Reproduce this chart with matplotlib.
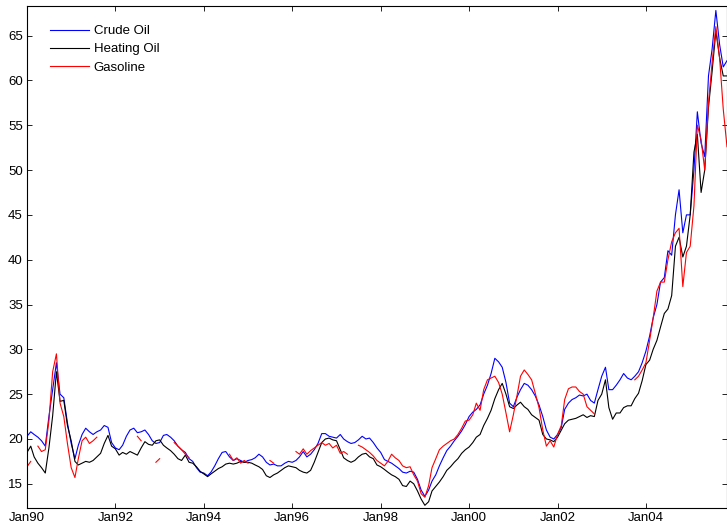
import numpy as np
import pandas as pd
import matplotlib
matplotlib.use('Agg')
import matplotlib.pyplot as plt
import matplotlib.dates as mdates

nan = np.nan

# monthly samples, Jan 1990 .. Nov 2005
months = pd.date_range('1990-01-01', '2005-11-01', freq='MS')

crude_oil = [
    20.3, 20.8, 20.5, 20.2, 19.8, 19.2, 22.5, 25.5, 28.5, 25.0, 24.6, 21.8,
    19.5, 17.8, 19.3, 20.5, 21.2, 20.8, 20.5, 20.8, 21.0, 21.5, 21.3, 19.6,
    19.0, 18.8, 19.3, 20.3, 21.0, 21.2, 20.7, 20.8, 21.0, 20.5, 19.8, 19.5,
    19.6, 20.4, 20.5, 20.2, 19.8, 19.2, 18.8, 18.5, 17.8, 17.5, 16.8, 16.3,
    16.2, 15.9, 16.3, 17.0, 17.8, 18.5, 18.6, 18.0, 17.6, 17.8, 17.6, 17.4,
    17.6, 17.7, 17.9, 18.3, 18.0, 17.4, 17.1, 17.2, 17.0, 17.0, 17.3, 17.5,
    17.4, 17.6, 18.0, 18.6, 18.0, 18.3, 18.8, 19.5, 20.6, 20.6, 20.3, 20.2,
    20.1, 20.5, 20.0, 19.7, 19.5, 19.6, 19.9, 20.3, 20.0, 20.1, 19.6, 19.0,
    18.5, 17.7, 17.5, 17.3, 17.0, 16.7, 16.3, 16.2, 16.4, 16.3, 15.5, 14.3,
    13.6, 14.3, 15.3, 16.0, 17.0, 17.9, 18.7, 19.2, 19.8, 20.3, 20.9, 21.6,
    22.5, 23.0, 23.3, 23.8, 25.0, 26.0, 27.3, 29.0, 28.6, 28.0, 26.3, 24.0,
    23.6, 24.7, 25.5, 26.2, 26.0, 25.5, 24.8, 23.8, 22.5, 21.0, 20.2, 20.0,
    20.5, 21.3, 23.3, 24.0, 24.4, 24.6, 24.9, 24.8, 25.0, 24.3, 24.0, 25.5,
    27.0, 28.0, 25.5, 25.5, 26.0, 26.6, 27.3, 26.8, 26.6, 27.0, 27.5, 28.5,
    29.8, 31.5, 33.5, 35.0, 37.5, 38.0, 41.0, 40.5, 45.0, 47.8, 43.0, 45.0,
    45.0, 50.0, 56.5, 53.0, 51.5, 60.5, 63.5, 67.8, 64.0, 61.5, 62.2,
]

heating_oil = [
    18.5, 19.2, 18.0, 17.3, 16.8, 16.2, 19.0, 22.6, 27.5, 24.2, 24.3, 21.5,
    19.8, 17.5, 17.1, 17.3, 17.5, 17.4, 17.6, 18.0, 18.4, 19.5, 20.4, 19.2,
    18.9, 18.2, 18.5, 18.3, 18.6, 18.4, 18.2, 19.0, 19.7, 19.4, 19.3, 19.8,
    19.9, 19.3, 19.0, 18.7, 18.3, 17.8, 17.6, 18.2, 17.4, 17.3, 16.9, 16.4,
    16.1, 15.8, 16.1, 16.4, 16.7, 16.9, 17.2, 17.3, 17.2, 17.3, 17.5, 17.4,
    17.4, 17.3, 17.1, 16.9, 16.6, 15.9, 15.7, 16.0, 16.2, 16.5, 16.8, 17.0,
    16.9, 16.8, 16.5, 16.3, 16.2, 16.5, 17.4, 18.5, 19.6, 20.0, 20.1, 19.9,
    19.8, 18.8, 17.9, 17.6, 17.4, 17.6, 18.0, 18.3, 18.4, 18.0, 17.8, 17.1,
    16.9, 16.6, 16.3, 16.0, 15.8, 15.5, 14.8, 14.7, 15.3, 15.0, 14.2, 13.3,
    12.6, 13.0, 14.2, 14.7, 15.2, 15.8, 16.5, 16.9, 17.4, 17.8, 18.4, 18.8,
    19.1, 19.6, 20.2, 20.5, 21.5, 22.3, 23.2, 24.5, 25.5, 26.2, 25.0, 23.6,
    23.4, 23.8, 24.1, 23.6, 23.3, 22.7, 22.4, 22.1, 20.5, 20.0, 19.9, 19.7,
    20.2, 21.0, 21.7, 22.1, 22.2, 22.3, 22.5, 22.7, 22.4, 22.6, 22.5, 24.3,
    25.0, 26.6, 23.5, 22.2, 22.9, 22.9, 23.5, 23.7, 23.7, 24.5, 25.1, 26.5,
    28.3, 28.8, 30.0, 31.0, 32.5, 34.0, 34.5, 36.0, 41.5, 42.5, 40.3, 41.5,
    45.0, 52.0, 54.0, 47.5, 50.0, 57.0, 61.0, 65.5, 62.5, 60.5, 60.5,
]

# gasoline has missing stretches
gasoline = [
    16.9, 17.5, nan, 19.2, 18.6, 18.8, 22.0, 27.5, 29.5, 24.0, 22.5, 19.5,
    16.8, 15.7, 17.8, 19.8, 20.2, 19.5, 19.8, 20.2, nan, nan, nan, nan,
    nan, nan, nan, nan, nan, nan, 20.3, 19.8, nan, nan, nan, 17.4,
    17.8, nan, nan, nan, 19.6, 19.2, 18.8, 18.3, 17.9, nan, nan, nan,
    nan, nan, nan, nan, nan, nan, nan, 18.3, 17.6, 17.9, 17.3, 17.6,
    17.3, nan, nan, nan, nan, nan, 17.6, 17.3, nan, nan, nan, nan,
    nan, 18.6, 18.3, 18.9, 18.3, 18.7, 19.0, 19.3, 19.6, 19.3, 19.5, 19.0,
    19.3, 18.4, 18.6, 18.3, nan, nan, 19.3, 19.1, 18.8, 18.5, 18.1, 17.6,
    17.3, 17.0, 17.5, 18.3, 17.9, 17.6, 17.0, 16.8, 16.9, 16.0, 15.3, 13.9,
    13.5, 14.8, 16.8, 17.8, 18.8, 19.2, 19.5, 19.8, 20.0, 20.5, 21.2, 22.0,
    22.1, 22.7, 24.0, 23.2, 25.5, 26.6, 26.8, 27.0, 26.3, 25.0, 22.9, 20.8,
    22.7, 24.9, 27.0, 27.7, 27.2, 26.6, 25.1, 23.5, 21.0, 19.2, 19.8, 19.1,
    20.5, 21.5, 24.4, 25.6, 25.8, 25.8, 25.3, 25.0, 23.6, 23.2, 22.8, nan,
    nan, nan, nan, nan, nan, nan, nan, nan, nan, 26.6, 27.0, 27.7,
    28.5, 31.0, 33.5, 36.5, 37.5, 37.5, 40.0, 42.0, 43.0, 43.5, 37.0, 40.8,
    41.5, 46.0, 55.0, 53.4, 50.0, 57.5, 62.0, 66.0, 62.5, 56.8, 52.6,
]

plt.rcParams['font.family'] = ['Liberation Sans', 'DejaVu Sans']

fig = plt.figure(figsize=(7.27, 5.26), dpi=100)
ax = fig.add_axes([27 / 727, 18 / 526, 700 / 727, 502 / 526])

ax.plot(months, crude_oil, color='#0000ff', lw=0.8, label='Crude Oil')
ax.plot(months, heating_oil, color='black', lw=0.8, label='Heating Oil')
ax.plot(months, gasoline, color='#ff0000', lw=0.8, label='Gasoline')

ax.set_xlim(months[0], months[-1])
ax.set_ylim(12.3, 68.3)
ax.set_yticks(np.arange(15, 66, 5))
ax.xaxis.set_major_locator(mdates.YearLocator(2))
ax.xaxis.set_major_formatter(mdates.DateFormatter('%b%y'))

ax.tick_params(direction='in', top=True, right=True, length=3.6,
               width=0.6, labelsize=9.5, pad=3)
for s in ax.spines.values():
    s.set_linewidth(0.8)

ax.legend(loc='upper left', bbox_to_anchor=(0.033, 0.962), frameon=False,
          fontsize=9.5, handlelength=2.95, handletextpad=0.35,
          labelspacing=0.45, borderpad=0, borderaxespad=0)

fig.savefig('out.png', dpi=100)
